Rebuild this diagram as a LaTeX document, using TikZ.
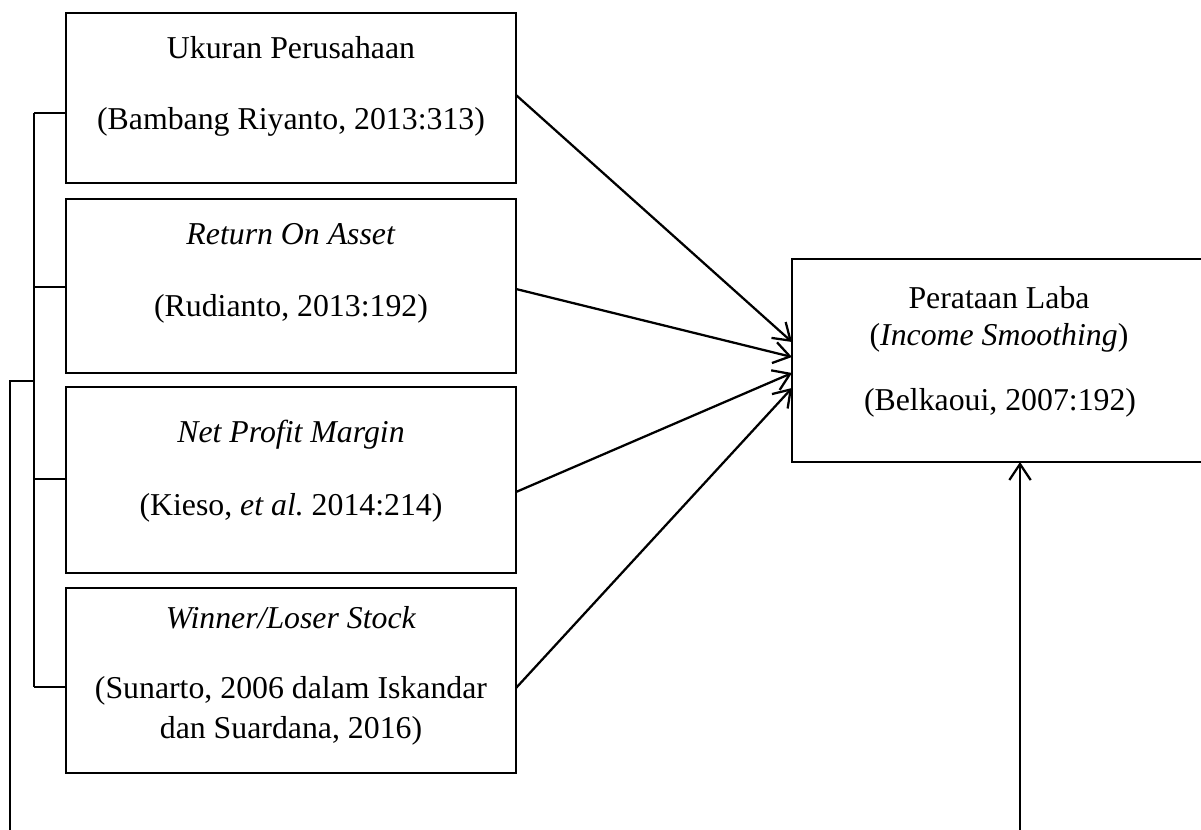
\documentclass[tikz,border=0pt]{standalone}
\usepackage{fontspec}
\setmainfont{Liberation Serif}
\usetikzlibrary{arrows.meta,calc}
\frenchspacing
\begin{document}
\begin{tikzpicture}[x=0.75pt,y=-0.75pt,
  every node/.style={font=\fontsize{23.85pt}{27.5pt}\selectfont},
  box/.style={draw, line width=1.7pt, inner sep=0pt, outer sep=0pt},
  txt/.style={anchor=base, inner sep=0pt},
  conn/.style={line width=1.7pt, line join=miter},
  arr/.style={conn, -{Straight Barb[length=12pt,width=16pt,line width=1.7pt]}}]
\useasboundingbox (0,0) rectangle (1201,830);
\clip (0,0) rectangle (1201,830);
% boxes
\node[box, minimum width=450*0.75pt, minimum height=170*0.75pt] (b1) at (291,98) {};
\node[box, minimum width=450*0.75pt, minimum height=174*0.75pt] (b2) at (291,286) {};
\node[box, minimum width=450*0.75pt, minimum height=186*0.75pt] (b3) at (291,480) {};
\node[box, minimum width=450*0.75pt, minimum height=185*0.75pt] (b4) at (291,680.5) {};
\node[box, minimum width=416*0.75pt, minimum height=203*0.75pt] (r) at (1000,360.5) {};
% texts
\node[txt] (t1a) at (291,59) {Ukuran Perusahaan};
\node[txt] (t1b) at (291,130) {(Bambang Riyanto, 2013:313)};
\node[txt] (t2a) at (291,245) {\textit{Return On Asset}};
\node[txt] (t2b) at (291,316) {(Rudianto, 2013:192)};
\node[txt] (t3a) at (291,442) {\textit{Net Profit Margin}};
\node[txt] (t3b) at (291,515) {(Kieso, \textit{et al.} 2014:214)};
\node[txt] (t4a) at (291,628) {\textit{Winner/Loser Stock}};
\node[txt] (t4b) at (291,698) {(Sunarto, 2006 dalam Iskandar};
\node[txt] (t4c) at (291,738) {dan Suardana, 2016)};
\node[txt] (tra) at (999,308) {Perataan Laba};
\node[txt] (trb) at (999,345) {(\textit{Income Smoothing})};
\node[txt] (trc) at (1000,410) {(Belkaoui, 2007:192)};
% arrows
\draw[arr] ($(b1.east)+(0,-3)$) -- ($(r.west)+(0,-18.5)$);
\draw[arr] ($(b2.east)+(0,3)$) -- ($(r.west)+(0,-3.5)$);
\draw[arr] ($(b3.east)+(0,12)$) -- ($(r.west)+(0,12.5)$);
\draw[arr] ($(b4.east)+(0,7.5)$) -- ($(r.west)+(0,27.5)$);
% bracket
\coordinate (sp1) at (34,113);
\coordinate (sp2) at (34,287);
\coordinate (sp3) at (34,479);
\coordinate (sp4) at (34,687);
\draw[conn] (sp1) -- (sp1 -| b1.west);
\draw[conn] (sp2) -- (sp2 -| b2.west);
\draw[conn] (sp3) -- (sp3 -| b3.west);
\draw[conn] (sp4) -- (sp4 -| b4.west);
\draw[conn] (sp1) -- (sp4);
% outer loop
\coordinate (brk) at (34,381);
\coordinate (lo) at (10,845);
\draw[arr] (brk) -| (lo) -| ($(r.south)+(20,0)$);
\end{tikzpicture}
\end{document}
